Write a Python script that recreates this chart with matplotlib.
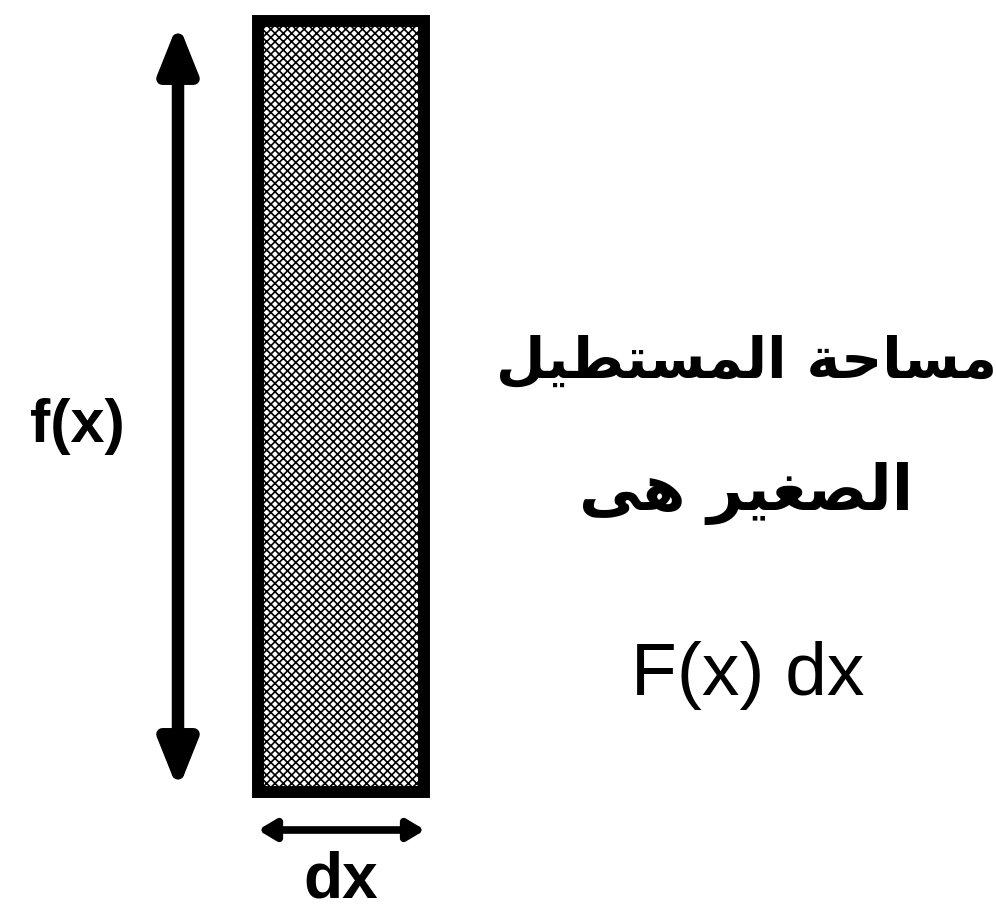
import matplotlib
matplotlib.use('Agg')
import matplotlib.pyplot as plt
import matplotlib.patches as patches

# diagram geometry (pixel units of the 996x916 picture)
rect_box = [258, 21, 166, 771]          # x, y, width, height of the strip (edge centre)
fx_arrow = [(178, 23), (178, 790)]      # tips of the f(x) arrow
dx_arrow = [(258, 830), (425, 830)]     # tips of the dx arrow

label_fx = 'f(x)'
label_dx = 'dx'
caption_lines = ['مساحة المستطيل', 'الصغير هى']
caption_formula = 'F(x) dx'

# contextual forms: isolated, final, initial, medial
FORMS = {
    '\u0627': ('\uFE8D', '\uFE8E', None, None),
    '\u0629': ('\uFE93', '\uFE94', None, None),
    '\u062A': ('\uFE95', '\uFE96', '\uFE97', '\uFE98'),
    '\u062D': ('\uFEA1', '\uFEA2', '\uFEA3', '\uFEA4'),
    '\u0631': ('\uFEAD', '\uFEAE', None, None),
    '\u0633': ('\uFEB1', '\uFEB2', '\uFEB3', '\uFEB4'),
    '\u0635': ('\uFEB9', '\uFEBA', '\uFEBB', '\uFEBC'),
    '\u0637': ('\uFEC1', '\uFEC2', '\uFEC3', '\uFEC4'),
    '\u063A': ('\uFECD', '\uFECE', '\uFECF', '\uFED0'),
    '\u0644': ('\uFEDD', '\uFEDE', '\uFEDF', '\uFEE0'),
    '\u0645': ('\uFEE1', '\uFEE2', '\uFEE3', '\uFEE4'),
    '\u0647': ('\uFEE9', '\uFEEA', '\uFEEB', '\uFEEC'),
    '\u0649': ('\uFEEF', '\uFEF0', '\uFBE8', '\uFBE9'),
    '\u064A': ('\uFEF1', '\uFEF2', '\uFEF3', '\uFEF4'),
}

def shapeArabic(text):
    out = []
    for i, c in enumerate(text):
        if c not in FORMS:
            out.append(c)
            continue
        iso, fin, ini, med = FORMS[c]
        prev = text[i-1] if i > 0 else None
        nxt = text[i+1] if i+1 < len(text) else None
        joinPrev = prev in FORMS and FORMS[prev][2] is not None
        joinNext = ini is not None and nxt in FORMS
        if joinPrev and joinNext:
            out.append(med)
        elif joinPrev:
            out.append(fin)
        elif joinNext:
            out.append(ini)
        else:
            out.append(iso)
    return ''.join(reversed(out))  # visual order for left-to-right drawing

def main():
    fig = plt.figure(figsize=(9.96, 9.16), dpi=100)
    ax = fig.add_axes([0, 0, 1, 1])
    ax.set_xlim(0, 996)
    ax.set_ylim(916, 0)
    ax.axis('off')

    plt.rcParams['hatch.linewidth'] = 1.2
    x, y, w, h = rect_box
    rect = patches.Rectangle((x, y), w, h, facecolor='white', edgecolor='black',
                             linewidth=8.6, hatch='xxxx')
    ax.add_patch(rect)

    arr = patches.FancyArrowPatch(fx_arrow[0], fx_arrow[1],
                                  arrowstyle='<|-|>,head_length=0.7,head_width=0.28',
                                  mutation_scale=40, linewidth=9, color='black',
                                  shrinkA=0, shrinkB=0)
    ax.add_patch(arr)
    arr2 = patches.FancyArrowPatch(dx_arrow[0], dx_arrow[1],
                                   arrowstyle='<|-|>,head_length=0.5,head_width=0.3',
                                   mutation_scale=20, linewidth=5.5, color='black',
                                   shrinkA=0, shrinkB=0)
    ax.add_patch(arr2)

    ax.text(77, 442, label_fx, fontsize=44, fontweight='bold', family='Liberation Sans',
            ha='center', va='baseline')
    ax.text(341, 897, label_dx, fontsize=46, fontweight='bold', family='Liberation Sans',
            ha='center', va='baseline')

    ax.text(746, 378, shapeArabic(caption_lines[0]), fontsize=41, fontweight='bold',
            family=['DejaVu Sans'], ha='center', va='baseline')
    ax.text(746, 510, shapeArabic(caption_lines[1]), fontsize=45, fontweight='bold',
            family=['DejaVu Sans'], ha='center', va='baseline')
    ax.text(748, 695, caption_formula, fontsize=54, family='Liberation Sans',
            ha='center', va='baseline')

    fig.savefig('out.png', dpi=100)

if __name__ == "__main__":
    main()
